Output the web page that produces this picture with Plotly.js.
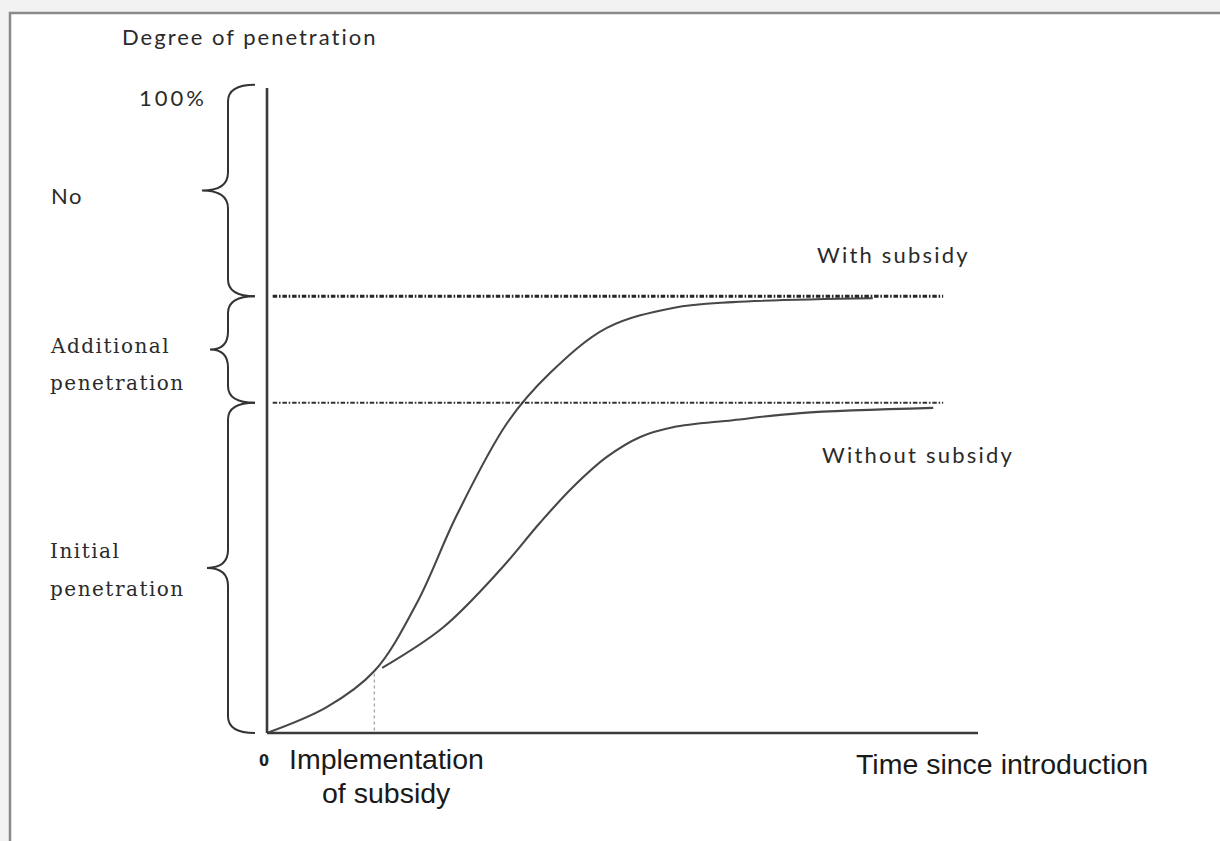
<!DOCTYPE html>
<html>
<head>
<meta charset="utf-8">
<script src="https://cdn.plot.ly/plotly-3.0.1.min.js"></script>
<style>html,body{margin:0;padding:0;background:#f2f2f2;}#chart{width:1220px;height:841px;}</style>
</head>
<body>
<div id="chart"></div>
<script>
// ---- data (time since introduction, degree of penetration %) ----
const timeWith = [0, 0.84, 1.51, 2.11, 2.67, 3.38, 3.98, 4.78, 5.71, 6.55, 8.52];
const penWith  = [0, 4.0, 9.6, 20.2, 33.8, 48.1, 55.8, 62.8, 65.9, 66.8, 67.4];
const timeWithout = [1.62, 2.48, 3.28, 3.84, 4.30, 4.78, 5.25, 5.71, 6.55, 7.50, 9.37];
const penWithout  = [10.1, 16.4, 25.3, 32.6, 38.1, 42.8, 45.9, 47.4, 48.5, 49.6, 50.4];
const saturationWith = 67.7;
const saturationWithout = 51.2;
const fullPenetration = 100;
const implementationTime = 1.51;
const implementationLevel = 9.6;
const axisEndTime = 10.0;
const saturationLineStart = 0.08;
const saturationLineEnd = 9.51;

const seriesLabels = ["With subsidy", "Without subsidy"];
const segmentLabels = [["No"], ["Additional", "penetration"], ["Initial", "penetration"]];
const yAxisTitle = "Degree of penetration";
const xAxisTitle = "Time since introduction";
const implementationLabel = ["Implementation", "of subsidy"];
const topTick = "100%";
const originTick = "0";

// ---- pixel helpers for layout only ----
const W = 1220, H = 841;
const X0 = 267, XS = 71.1, Y0 = 733, YS = 6.45;
const px2x = p => (p - X0) / XS;
const py2y = p => (Y0 - p) / YS;
const pap = (px, py) => ({x: px / W, y: 1 - py / H});

const ink = '#3a3a3a';
const curve = {shape: 'spline', smoothing: 1, color: '#474747', width: 2.1};

const traces = [
  {x: timeWith, y: penWith, mode: 'lines', line: curve, hoverinfo: 'skip', name: seriesLabels[0]},
  {x: timeWithout, y: penWithout, mode: 'lines', line: curve, hoverinfo: 'skip', name: seriesLabels[1]},
  // saturation levels
  {x: [saturationLineStart, saturationLineEnd], y: [saturationWith, saturationWith], mode: 'lines', line: {color: '#262626', width: 3, dash: '4.5px,1.8px,1.6px,1.8px'}, hoverinfo: 'skip'},
  {x: [saturationLineStart, saturationLineEnd], y: [saturationWithout, saturationWithout], mode: 'lines', line: {color: '#333', width: 2, dash: '4.5px,1.8px,1.6px,1.8px'}, hoverinfo: 'skip'},
  // implementation marker
  {x: [implementationTime, implementationTime], y: [0.4, implementationLevel], mode: 'lines', line: {color: '#aaa', width: 1.4, dash: 'dot'}, hoverinfo: 'skip'},
  // axes
  {x: [0, 0], y: [0, fullPenetration], mode: 'lines', line: {color: ink, width: 2.6}, hoverinfo: 'skip'},
  {x: [0, axisEndTime], y: [0, 0], mode: 'lines', line: {color: ink, width: 2.6}, hoverinfo: 'skip'}
];

// braces built from the segment bounds
function brace(yTop, yBot, tipPx) {
  const e = px2x(255), s = px2x(228), t = px2x(tipPx);
  const r = 2.6, rt = 2.8;
  const ym = (yTop + yBot) / 2;
  return `M ${e},${yTop} Q ${s},${yTop} ${s},${yTop - r} L ${s},${ym + rt} Q ${s},${ym} ${t},${ym} ` +
         `Q ${s},${ym} ${s},${ym - rt} L ${s},${yBot + r} Q ${s},${yBot} ${e},${yBot}`;
}
const bounds = [fullPenetration + 0.5, saturationWith, saturationWithout, 0];
const tips = [202, 210, 207];
const shapes = [
  {type: 'rect', xref: 'paper', yref: 'paper', x0: 10 / W, x1: 1.05, y0: -0.05, y1: 1 - 13 / H, fillcolor: '#ffffff', line: {color: '#8a8a8a', width: 2.5}, layer: 'below'}
];
for (let i = 0; i < 3; i++) {
  shapes.push({type: 'path', xref: 'x', yref: 'y', path: brace(bounds[i], bounds[i + 1], tips[i]), line: {color: '#333', width: 2}});
}

const cal = {family: 'Lato, "Open Sans", sans-serif', size: 22, color: '#2a2a2a'};
const serif = {family: '"DejaVu Serif", serif', size: 20, color: '#2a2a2a'};
const arial = {family: '"Liberation Sans", Arial, sans-serif', size: 28.5, color: '#1a1a1a'};

const spaced = (t, s) => `<span style="letter-spacing:${s}px">${t}</span>`;
function ann(text, px, py, font, xanchor) {
  const p = pap(px, py);
  return {text, x: p.x, y: p.y, xref: 'paper', yref: 'paper', xanchor: xanchor || 'left', yanchor: 'middle', showarrow: false, font};
}
const annotations = [
  ann(spaced(yAxisTitle, 2), 120, 37, cal),
  ann(spaced(topTick, 3), 209, 98, cal, 'right'),
  ann(spaced(segmentLabels[0][0], 1.5), 49, 196, cal),
  ann(spaced(segmentLabels[1][0], 1.5), 48, 346, serif),
  ann(spaced(segmentLabels[1][1], 1.5), 48, 383, serif),
  ann(spaced(segmentLabels[2][0], 1.5), 48, 551, serif),
  ann(spaced(segmentLabels[2][1], 1.5), 48, 589, serif),
  ann(spaced(seriesLabels[0], 2.2), 815, 254, cal),
  ann(spaced(seriesLabels[1], 2.2), 820, 455, cal),
  ann(originTick, 264, 760, {family: '"DejaVu Sans Condensed", "DejaVu Sans", sans-serif', size: 16, color: '#222', weight: 'bold'}, 'center'),
  ann(implementationLabel[0], 287, 759, arial),
  ann(implementationLabel[1], 320, 793, arial),
  ann(xAxisTitle, 854, 764, arial)
];

const layout = {
  width: W, height: H, autosize: false,
  margin: {l: 0, r: 0, t: 0, b: 0, pad: 0},
  paper_bgcolor: '#f2f2f2', plot_bgcolor: 'rgba(0,0,0,0)',
  showlegend: false,
  xaxis: {range: [px2x(0), px2x(W)], visible: false, fixedrange: true},
  yaxis: {range: [py2y(H), py2y(0)], visible: false, fixedrange: true},
  shapes, annotations
};
Plotly.newPlot('chart', traces, layout, {staticPlot: true, displayModeBar: false});
</script>
</body>
</html>
